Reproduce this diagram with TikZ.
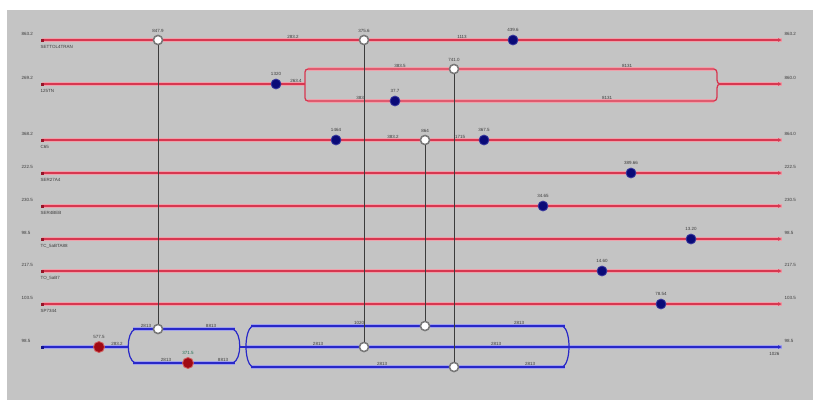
\documentclass[tikz,border=0pt]{standalone}
\usepackage{fontspec}
\setmainfont{Liberation Sans}
\usetikzlibrary{arrows.meta}
\definecolor{bggray}{RGB}{196,196,196}
\definecolor{rhalo}{RGB}{238,160,170}
\definecolor{rcore}{RGB}{215,55,80}
\definecolor{bhalo}{RGB}{160,160,235}
\definecolor{bcore}{RGB}{40,40,200}
\definecolor{bdotfill}{RGB}{10,10,120}
\definecolor{bdotedge}{RGB}{60,60,160}
\definecolor{rdotfill}{RGB}{160,10,20}
\definecolor{rdotedge}{RGB}{210,90,90}
\definecolor{wedge}{RGB}{120,120,120}
\definecolor{lbltext}{RGB}{60,60,60}
\definecolor{vcol}{RGB}{60,60,60}
\definecolor{sqred}{RGB}{150,20,40}
\definecolor{sqblue}{RGB}{20,20,140}
\definecolor{greentext}{RGB}{30,110,80}
\begin{document}
\begin{tikzpicture}[x=1pt,y=-1pt,
  redhalo/.style={draw=rhalo,line width=4.5pt},
  redcore/.style={draw=rcore,line width=1.3pt},
  bluehalo/.style={draw=bhalo,line width=3.5pt},
  bluecore/.style={draw=bcore,line width=1.2pt},
  bdot/.style={circle,minimum size=10pt,inner sep=0pt,fill=bdotfill,draw=bdotedge,line width=0.8pt},
  rdot/.style={circle,minimum size=11pt,inner sep=0pt,fill=rdotfill,draw=rdotedge,line width=0.8pt},
  wdot/.style={circle,minimum size=9pt,inner sep=0pt,fill=white,draw=wedge,line width=1.4pt},
  lbl/.style={font=\fontsize{4.5}{5.5}\selectfont,text=lbltext,inner sep=0.5pt},
  vline/.style={draw=vcol,line width=0.8pt},
  endsq/.style={rectangle,minimum size=3pt,inner sep=0pt,fill=sqred},
  endsqb/.style={rectangle,minimum size=3pt,inner sep=0pt,fill=sqblue},
  tipr/.style={-{Latex[length=4pt,width=4pt]}},
]
\useasboundingbox (0,0) rectangle (813,400);
\fill[white] (0,0) rectangle (813,400);
\fill[bggray] (7,10) rectangle (813,400);

% ---------- red lines ----------
\foreach \yy/\nm in {40/a,140/c,173/d,206/e,239/f,271/g,304/h}{
  \coordinate (s\nm) at (42,\yy);
  \coordinate (e\nm) at (782,\yy);
  \path[redhalo] (s\nm) -- (e\nm);
  \path[redcore,tipr] (s\nm) -- (e\nm);
  \node[endsq] at (s\nm) {};
}
% line 2 with box
\coordinate (sb) at (42,84);
\coordinate (eb) at (782,84);
\path[redhalo] (sb) -- (305,84);
\path[redhalo] (308,69) -- (714,69);
\path[redhalo] (308,101) -- (714,101);
\path[redhalo] (720,84) -- (eb);
\path[redcore] (sb) -- (305,84);
\path[redcore] (714,69) -- (308,69) to[out=180,in=90] (305,72) -- (305,98) to[out=-90,in=180] (308,101) -- (714,101);
\path[redcore] (714,69) to[out=0,in=90] (717,73) -- (717,80) to[out=-90,in=180] (720,84);
\path[redcore] (714,101) to[out=0,in=-90] (717,97) -- (717,88) to[out=90,in=180] (720,84);
\path[redcore,tipr] (720,84) -- (eb);
\node[endsq] at (sb) {};

% ---------- blue line ----------
\coordinate (sB) at (42,347);
\coordinate (eB) at (782,347);
\path[bluehalo] (sB) -- (128,347);
\path[bluehalo] (133,329) -- (235,329);
\path[bluehalo] (133,363) -- (235,363);
\path[bluehalo] (251,326) -- (565,326);
\path[bluehalo] (246,347) -- (eB);
\path[bluehalo] (251,367) -- (565,367);
\path[bluecore] (sB) -- (128,347);
\path[bluecore] (135,329) .. controls (126,333) and (126,359) .. (135,363);
\path[bluecore] (133,329) -- (235,329);
\path[bluecore] (133,363) -- (235,363);
\path[bluecore] (233,329) .. controls (242,333) and (242,359) .. (233,363);
\path[bluecore] (239,347) -- (249,347);
\path[bluecore] (252,326) .. controls (244,332) and (244,361) .. (252,367);
\path[bluecore] (251,326) -- (565,326);
\path[bluecore] (251,367) -- (565,367);
\path[bluecore] (563,326) .. controls (571,332) and (571,361) .. (563,367);
\path[bluecore,tipr] (249,347) -- (eB);
\node[endsqb] at (sB) {};

% ---------- nodes ----------
\node[wdot] (w1) at (158,40) {};
\node[wdot] (w2) at (364,40) {};
\node[bdot] (b1) at (513,40) {};
\node[bdot] (b2) at (276,84) {};
\node[wdot] (w3) at (454,69) {};
\node[bdot] (b3) at (395,101) {};
\node[bdot] (b4) at (336,140) {};
\node[wdot] (w4) at (425,140) {};
\node[bdot] (b5) at (484,140) {};
\node[bdot] (b6) at (631,173) {};
\node[bdot] (b7) at (543,206) {};
\node[bdot] (b8) at (691,239) {};
\node[bdot] (b9) at (602,271) {};
\node[bdot] (b10) at (661,304) {};
\node[rdot] (r1) at (99,347) {};
\node[rdot] (r2) at (188,363) {};
\node[wdot] (w5) at (158,329) {};
\node[wdot] (w6) at (425,326) {};
\node[wdot] (w7) at (364,347) {};
\node[wdot] (w8) at (454,367) {};

% ---------- vertical connectors ----------
\path[vline] (w1) -- (w5);
\path[vline] (w2) -- (w7);
\path[vline] (w3) -- (w8);
\path[vline] (w4) -- (w6);
% redraw nodes on top
\node[wdot] at (158,40) {};
\node[wdot] at (364,40) {};
\node[wdot] at (454,69) {};
\node[wdot] at (425,140) {};
\node[wdot] at (158,329) {};
\node[wdot] at (425,326) {};
\node[wdot] at (364,347) {};
\node[wdot] at (454,367) {};

% ---------- left / right labels ----------
\foreach \yy/\ta/\tb/\tc in {40/863.2/SETTOL4TRAN/863.2, 84/269.2/125TN/860.0, 140/368.2/C65/864.0, 173/222.5/SER27A4/222.5, 206/230.5/SER4BEB/230.5, 239/98.5/TC\_5aBTA88/98.5, 271/217.5/TO\_5aB7/217.5, 304/103.5/SP7344/103.5}{
  \node[lbl,anchor=west] at (21,\yy-6) {\ta};
  \node[lbl,anchor=west] at (40,\yy+7) {\tb};
  \node[lbl,anchor=west] at (784,\yy-6) {\tc};
}
\node[lbl,anchor=west] at (21,341) {98.5};
\node[lbl,anchor=west] at (784,341) {98.5};
\node[lbl,anchor=east] at (780,354) {1026};

% ---------- inline labels ----------
\node[lbl,above=2pt] at (w1.north) {847.9};
\node[lbl,above=2pt] at (w2.north) {375.6};
\node[lbl,above=2pt] at (b1.north) {439.6};
\node[lbl,anchor=south] at (293,39) {283.2};
\node[lbl,anchor=south] at (462,39) {1113};

\node[lbl,above=2pt] at (b2.north) {1320};
\node[lbl,anchor=south] at (296,83) {263.4};
\node[lbl,anchor=south] at (400,68) {383.5};
\node[lbl,above=2pt] at (w3.north) {741.0};
\node[lbl,anchor=south] at (627,68) {8131};
\node[lbl,anchor=south] at (360,100) {383};
\node[lbl,above=2pt] at (b3.north) {37.7};
\node[lbl,anchor=south] at (607,100) {8131};

\node[lbl,above=2pt] at (b4.north) {1464};
\node[lbl,anchor=south] at (393,139) {383.2};
\node[lbl,above=2pt] at (w4.north) {864};
\node[lbl,anchor=south] at (460,139) {1715};
\node[lbl,above=2pt] at (b5.north) {367.5};

\node[lbl,above=2pt] at (b6.north) {389.66};
\node[lbl,above=2pt] at (b7.north) {34.65};
\node[lbl,above=2pt] at (b8.north) {13.20};
\node[lbl,above=2pt] at (b9.north) {14.60};
\node[lbl,above=2pt] at (b10.north) {78.54};

\node[lbl,above=2pt] at (r1.north) {577.5};
\node[lbl,anchor=south] at (117,346) {283.2};
\node[lbl,anchor=south] at (146,328) {2813};
\node[lbl,anchor=south] at (211,328) {8813};
\node[lbl,above=2pt,text=greentext] at (r2.north) {371.5};
\node[lbl,anchor=south] at (166,362) {2813};
\node[lbl,anchor=south] at (223,362) {8813};
\node[lbl,anchor=south] at (359,325) {1020};
\node[lbl,anchor=south] at (519,325) {2813};
\node[lbl,anchor=south] at (318,346) {2813};
\node[lbl,anchor=south] at (496,346) {2813};
\node[lbl,anchor=south] at (382,366) {2813};
\node[lbl,anchor=south] at (530,366) {2813};
\end{tikzpicture}
\end{document}
